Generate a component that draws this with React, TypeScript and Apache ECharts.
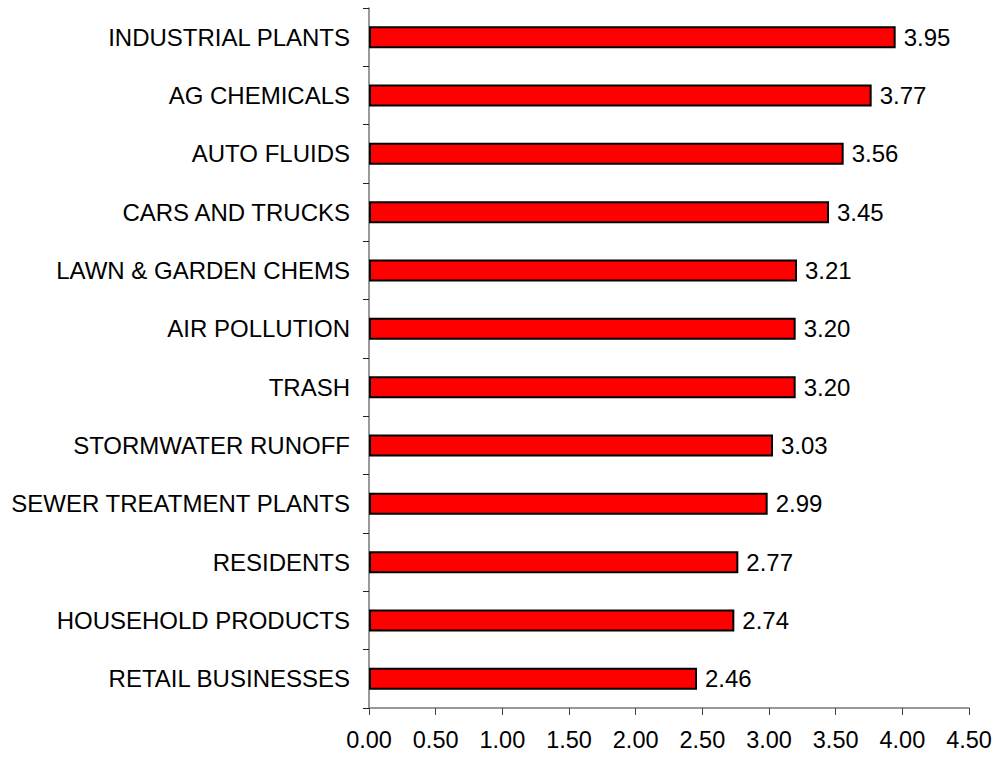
import React, { useEffect, useRef } from "react";
import * as echarts from "echarts";

const categories = [
  "INDUSTRIAL PLANTS",
  "AG CHEMICALS",
  "AUTO FLUIDS",
  "CARS AND TRUCKS",
  "LAWN & GARDEN CHEMS",
  "AIR POLLUTION",
  "TRASH",
  "STORMWATER RUNOFF",
  "SEWER TREATMENT PLANTS",
  "RESIDENTS",
  "HOUSEHOLD PRODUCTS",
  "RETAIL BUSINESSES",
];
const values = [3.95, 3.77, 3.56, 3.45, 3.21, 3.2, 3.2, 3.03, 2.99, 2.77, 2.74, 2.46];
const xMin = 0;
const xMax = 4.5;
const xStep = 0.5;

const FONT = "'Liberation Sans', Arial, sans-serif";

export default function App() {
  const ref = useRef<HTMLDivElement>(null);
  useEffect(() => {
    if (!ref.current) return;
    const chart = echarts.init(ref.current, undefined, { renderer: "svg" });
    chart.setOption({
      animation: false,
      backgroundColor: "#ffffff",
      textStyle: { fontFamily: FONT },
      grid: { left: 369, top: 8, right: 29, bottom: 49, containLabel: false },
      xAxis: {
        type: "value",
        min: xMin,
        max: xMax,
        interval: xStep,
        axisLine: { show: true, lineStyle: { color: "#777", width: 1.5 } },
        axisTick: { show: true, length: 7, lineStyle: { color: "#444", width: 1 } },
        splitLine: { show: false },
        axisLabel: {
          color: "#000",
          fontSize: 23.5,
          fontFamily: FONT,
          margin: 20,
          formatter: (v: number) => v.toFixed(2),
        },
      },
      yAxis: {
        type: "category",
        data: categories,
        inverse: true,
        boundaryGap: true,
        axisLine: { show: true, lineStyle: { color: "#777", width: 1.5 } },
        axisTick: { show: true, length: 6, alignWithLabel: false, lineStyle: { color: "#222", width: 1 } },
        splitLine: { show: false },
        axisLabel: {
          color: "#000",
          fontSize: 24,
          fontFamily: FONT,
          margin: 19,
        },
      },
      series: [
        {
          type: "bar",
          data: values,
          barWidth: 22,
          itemStyle: { color: "#ff0000", borderColor: "#000", borderWidth: 2 },
          label: {
            show: true,
            position: "right",
            distance: 8,
            color: "#000",
            fontSize: 24,
            fontFamily: FONT,
            formatter: (p: any) => Number(p.value).toFixed(2),
          },
        },
      ],
    });
    return () => chart.dispose();
  }, []);
  return (
    <div
      ref={ref}
      style={{ position: "fixed", left: 0, top: 0, width: 998, height: 757, background: "#fff" }}
    />
  );
}
